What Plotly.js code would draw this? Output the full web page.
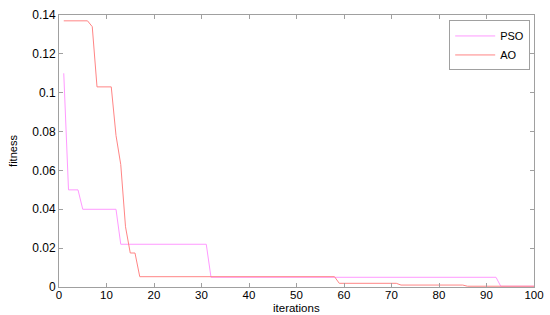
<!DOCTYPE html>
<html>
<head>
<meta charset="utf-8">
<script src="https://cdn.plot.ly/plotly-3.0.1.min.js"></script>
<style>
  html, body { margin: 0; padding: 0; background: #fff; }
  #plot { width: 550px; height: 315px; }
</style>
</head>
<body>
<div id="plot"></div>
<script>
// iterations and best fitness per algorithm
const psoIter = [1, 2, 4, 5, 12, 13, 31, 32, 92, 93, 100];
const psoFit  = [0.110, 0.050, 0.050, 0.040, 0.040, 0.022, 0.022, 0.0050, 0.0050, 0.0004, 0.0004];

const aoIter = [1, 6, 7, 8, 11, 12, 13, 14, 15, 16, 17, 58, 59, 71, 72, 85, 86, 100];
const aoFit  = [0.137, 0.137, 0.134, 0.103, 0.103, 0.078, 0.063, 0.031, 0.0175, 0.0175, 0.0053,
                0.0053, 0.0019, 0.0019, 0.0010, 0.0010, 0.0004, 0.0004];

const yTicks = [0, 0.02, 0.04, 0.06, 0.08, 0.1, 0.12, 0.14];
const yTickText = ['0', '0.02', '0.04', '0.06', '0.08', '0.1', '0.12', '0.14'];
const xTicks = [0, 10, 20, 30, 40, 50, 60, 70, 80, 90, 100];

const fontFam = 'Liberation Sans, Arial, sans-serif';

const traces = [
  { x: psoIter, y: psoFit, type: 'scatter', mode: 'lines', name: 'PSO',
    line: { color: '#ff99ff', width: 1 } },
  { x: aoIter, y: aoFit, type: 'scatter', mode: 'lines', name: 'AO',
    line: { color: '#ff8585', width: 1 } }
];

const axisCommon = {
  showline: true, mirror: 'ticks', linecolor: '#a0a0a0', linewidth: 1,
  ticks: 'inside', ticklen: 4, tickcolor: '#a0a0a0',
  showgrid: false, zeroline: false,
  tickfont: { family: fontFam, size: 12, color: '#000' }
};

const layout = {
  width: 550, height: 315,
  margin: { l: 59, r: 16, t: 15, b: 28 },
  paper_bgcolor: '#fff', plot_bgcolor: '#fff',
  showlegend: true,
  legend: {
    x: 0.992, y: 0.98, xanchor: 'right', yanchor: 'top',
    bgcolor: '#fff', bordercolor: '#a0a0a0', borderwidth: 1,
    font: { family: fontFam, size: 11, color: '#000' },
    tracegroupgap: 0, itemwidth: 40
  },
  xaxis: Object.assign({}, axisCommon, {
    range: [0, 100], tickvals: xTicks, ticklabelstandoff: -3,
    tickfont: { family: fontFam, size: 11.5, color: '#000' }
  }),
  yaxis: Object.assign({}, axisCommon, {
    range: [0, 0.14], tickvals: yTicks, ticktext: yTickText,
    title: { text: 'fitness', standoff: 12,
      font: { family: fontFam, size: 11, color: '#000' } }
  }),
  // x title as annotation so it can sit below the tick labels inside the small margin
  annotations: [{
    text: 'iterations', xref: 'paper', yref: 'paper', x: 0.5, y: 0,
    xanchor: 'center', yanchor: 'middle', yshift: -21, showarrow: false,
    font: { family: fontFam, size: 11.5, color: '#000' }
  }]
};

Plotly.newPlot('plot', traces, layout, { staticPlot: true, displayModeBar: false });
</script>
</body>
</html>
